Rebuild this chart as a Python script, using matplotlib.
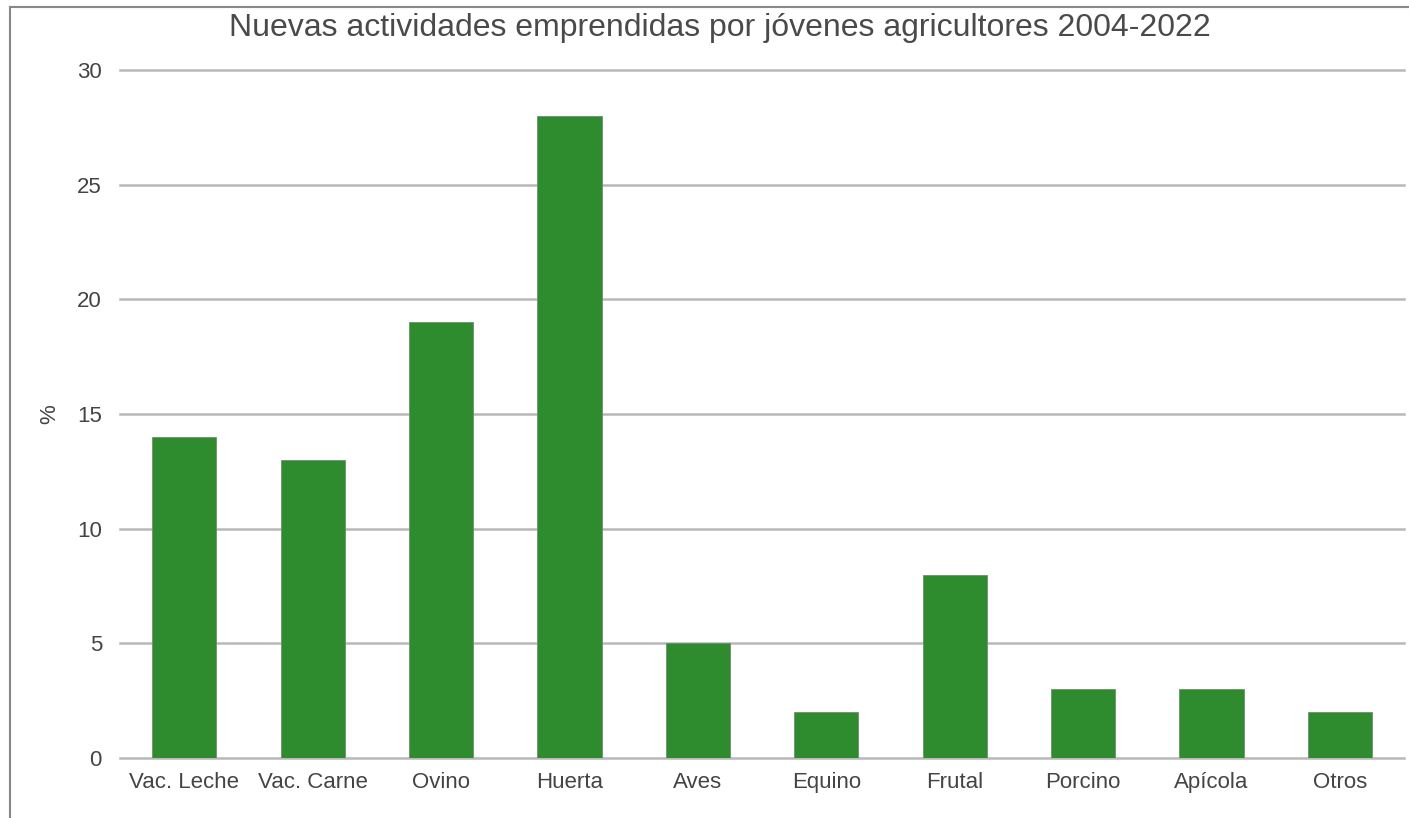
import matplotlib.pyplot as plt
from matplotlib.lines import Line2D

plt.rcParams['font.family'] = ['Liberation Sans', 'DejaVu Sans']

# Datos
categorias = ["Vac. Leche", "Vac. Carne", "Ovino", "Huerta", "Aves",
              "Equino", "Frutal", "Porcino", "Apícola", "Otros"]
porcentajes = [14, 13, 19, 28, 5, 2, 8, 3, 3, 2]
y_ticks = [0, 5, 10, 15, 20, 25, 30]

W, H = 1409, 818
fig = plt.figure(figsize=(W / 100, H / 100), dpi=100)
ax = fig.add_axes([120 / W, 60 / H, (1404 - 120) / W, (758 - 70) / H])

x = list(range(len(categorias)))
ax.bar(x, porcentajes, width=0.5, color="#2e8b2e", edgecolor="#6f8f6f",
       linewidth=0.6, zorder=3)

ax.set_xlim(-0.5, len(categorias) - 0.5)
ax.set_ylim(0, 30)
ax.set_yticks(y_ticks)
ax.set_xticks(x)
ax.set_xticklabels(categorias)
ax.yaxis.grid(True, color="#b8b8b8", linewidth=1.8, zorder=0)
for gl in ax.get_ygridlines():
    gl.set_clip_on(False)
ax.set_axisbelow(True)
for s in ax.spines.values():
    s.set_visible(False)
ax.tick_params(axis="both", length=0, labelsize=16, colors="#444444")
ax.tick_params(axis="y", pad=13)
ax.tick_params(axis="x", pad=10)
ax.set_ylabel("%", fontsize=16, color="#444444", labelpad=12)

fig.text(720 / W, 1 - 28 / H, "Nuevas actividades emprendidas por jóvenes agricultores 2004-2022",
         ha="center", va="center", fontsize=23, color="#4a4a4a")

# marco
fig.add_artist(Line2D([10 / W, 1], [1 - 7 / H, 1 - 7 / H], color="#888888", linewidth=1.5))
fig.add_artist(Line2D([10 / W, 10 / W], [0, 1 - 7 / H], color="#888888", linewidth=1.5))

fig.savefig("out.png", dpi=100)
